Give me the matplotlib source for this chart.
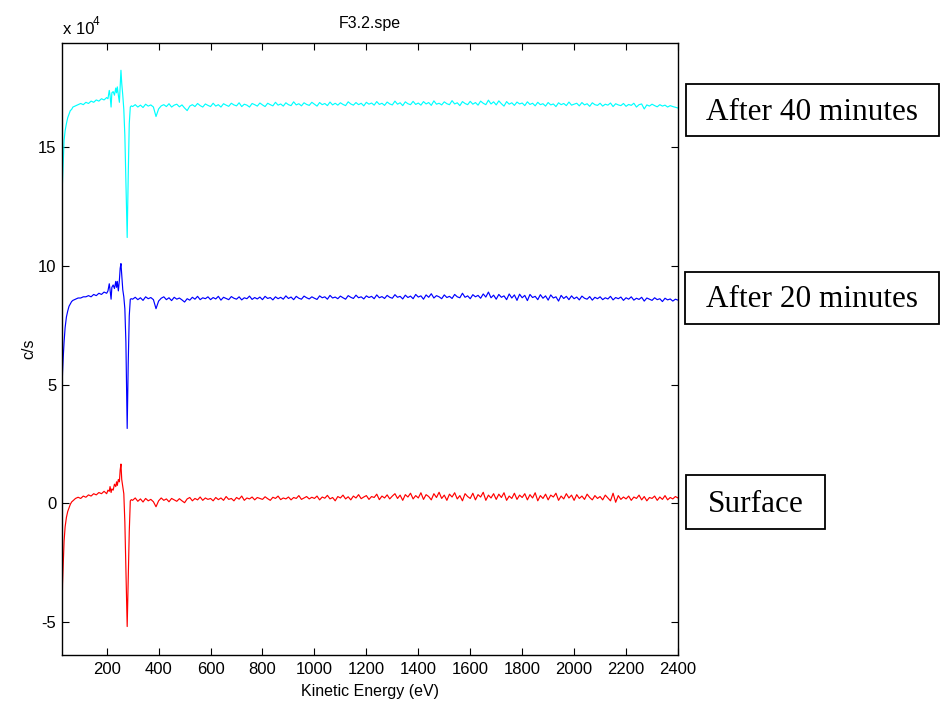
import matplotlib
matplotlib.use("Agg")
import matplotlib.pyplot as plt
from matplotlib.patches import Rectangle

# ---------------- data (counts in units of 1e4 c/s) ----------------
energy_early = [28, 30, 33, 36, 40, 45, 50, 55, 60, 65, 70, 80, 90, 100, 110, 120, 130, 140,
                150, 160, 170, 180, 190, 200, 205, 210, 213, 217, 220, 225, 230, 235, 238,
                241, 245, 249, 252, 255, 258, 262, 266, 270, 274, 279, 283, 287, 291, 295]
energy_flat = list(range(300, 2401, 10))
energy = energy_early + energy_flat

cyan_early = [13.0, 13.6, 14.6, 15.3, 15.7, 16.0, 16.25, 16.4, 16.55, 16.6, 16.7, 16.75, 16.8,
              16.85, 16.8, 16.9, 16.85, 16.95, 16.9, 17.0, 16.95, 17.05, 17.0, 17.1, 17.05,
              17.4, 17.2, 16.7, 17.3, 17.35, 17.2, 17.5, 17.3, 17.55, 17.2, 16.9, 17.6, 18.25,
              17.7, 17.2, 16.6, 15.5, 13.5, 11.2, 13.8, 16.0, 16.7, 16.75]
cyan_flat = [
    16.72, 16.80, 16.70, 16.78, 16.68, 16.82, 16.74, 16.79, 16.70, 16.30,
    16.62, 16.75, 16.80, 16.72, 16.84, 16.70, 16.78, 16.82, 16.71, 16.79,
    16.66, 16.55, 16.74, 16.80, 16.72, 16.85, 16.76, 16.70, 16.83, 16.77,
    16.72, 16.86, 16.74, 16.80, 16.70, 16.84, 16.78, 16.73, 16.86, 16.79,
    16.75, 16.88, 16.72, 16.82, 16.78, 16.70, 16.85, 16.80, 16.74, 16.87,
    16.79, 16.72, 16.86, 16.80, 16.75, 16.90, 16.78, 16.83, 16.74, 16.88,
    16.80, 16.76, 16.92, 16.79, 16.84, 16.75, 16.88, 16.81, 16.77, 16.90,
    16.82, 16.74, 16.89, 16.80, 16.85, 16.76, 16.91, 16.79, 16.86, 16.78,
    16.88, 16.81, 16.76, 16.92, 16.83, 16.78, 16.89, 16.80, 16.86, 16.75,
    16.90, 16.82, 16.87, 16.78, 16.93, 16.81, 16.86, 16.77, 16.91, 16.83,
    16.79, 16.95, 16.82, 16.88, 16.76, 16.92, 16.84, 16.80, 16.94, 16.81,
    16.87, 16.78, 16.93, 16.83, 16.89, 16.77, 16.96, 16.82, 16.86, 16.79,
    16.92, 16.84, 16.80, 16.97, 16.83, 16.88, 16.76, 16.93, 16.85, 16.80,
    16.94, 16.82, 16.89, 16.78, 16.95, 16.86, 16.80, 16.99, 16.83, 16.92,
    16.79, 16.96, 16.84, 16.74, 16.93, 16.82, 16.88, 16.77, 16.91, 16.83,
    16.87, 16.76, 16.92, 16.81, 16.86, 16.75, 16.90, 16.80, 16.84, 16.74,
    16.89, 16.79, 16.83, 16.72, 16.88, 16.80, 16.85, 16.76, 16.91, 16.78,
    16.82, 16.86, 16.75, 16.89, 16.79, 16.84, 16.73, 16.88, 16.80, 16.77,
    16.86, 16.74, 16.82, 16.78, 16.87, 16.72, 16.84, 16.79, 16.76, 16.85,
    16.73, 16.81, 16.77, 16.86, 16.70, 16.80, 16.83, 16.62, 16.79, 16.74,
    16.82, 16.76, 16.71, 16.80, 16.74, 16.78, 16.70, 16.76, 16.72, 16.69,
    16.66]

blue_early = [4.75, 5.5, 6.2, 6.8, 7.4, 7.85, 8.1, 8.3, 8.4, 8.5, 8.55, 8.6, 8.65, 8.65, 8.7,
              8.7, 8.75, 8.7, 8.8, 8.75, 8.85, 8.8, 8.9, 8.85, 8.95, 9.25, 9.0, 8.6, 9.1, 9.2,
              9.05, 9.35, 9.1, 9.35, 8.95, 9.4, 9.9, 10.1, 9.6, 9.0, 8.7, 8.2, 6.8, 3.15, 5.9,
              7.9, 8.6, 8.62]
blue_flat = [
    8.60, 8.68, 8.58, 8.66, 8.55, 8.70, 8.62, 8.67, 8.58, 8.20,
    8.52, 8.64, 8.70, 8.58, 8.66, 8.54, 8.68, 8.60, 8.65, 8.57,
    8.48, 8.62, 8.56, 8.68, 8.60, 8.72, 8.58, 8.66, 8.62, 8.70,
    8.58, 8.67, 8.61, 8.72, 8.56, 8.68, 8.63, 8.58, 8.71, 8.64,
    8.60, 8.70, 8.57, 8.66, 8.62, 8.73, 8.59, 8.67, 8.61, 8.69,
    8.58, 8.72, 8.63, 8.67, 8.57, 8.70, 8.62, 8.68, 8.60, 8.74,
    8.63, 8.69, 8.58, 8.72, 8.64, 8.60, 8.73, 8.66, 8.61, 8.70,
    8.64, 8.59, 8.74, 8.66, 8.70, 8.60, 8.76, 8.65, 8.69, 8.62,
    8.73, 8.66, 8.60, 8.75, 8.68, 8.63, 8.77, 8.66, 8.70, 8.61,
    8.74, 8.67, 8.72, 8.62, 8.78, 8.66, 8.71, 8.63, 8.76, 8.68,
    8.64, 8.79, 8.68, 8.72, 8.61, 8.77, 8.67, 8.73, 8.62, 8.80,
    8.69, 8.74, 8.60, 8.78, 8.68, 8.83, 8.65, 8.75, 8.70, 8.62,
    8.78, 8.67, 8.72, 8.63, 8.80, 8.70, 8.66, 8.85, 8.68, 8.74,
    8.62, 8.79, 8.70, 8.76, 8.64, 8.82, 8.69, 8.90, 8.66, 8.77,
    8.60, 8.80, 8.68, 8.74, 8.58, 8.82, 8.65, 8.78, 8.55, 8.81,
    8.66, 8.76, 8.54, 8.80, 8.67, 8.72, 8.58, 8.79, 8.64, 8.74,
    8.56, 8.78, 8.65, 8.70, 8.52, 8.76, 8.63, 8.72, 8.58, 8.74,
    8.62, 8.69, 8.57, 8.73, 8.64, 8.60, 8.71, 8.56, 8.68, 8.62,
    8.70, 8.58, 8.66, 8.61, 8.72, 8.57, 8.67, 8.62, 8.69, 8.55,
    8.66, 8.60, 8.70, 8.56, 8.64, 8.59, 8.68, 8.52, 8.65, 8.60,
    8.55, 8.66, 8.58, 8.62, 8.50, 8.64, 8.57, 8.61, 8.52, 8.60,
    8.56]

red_early = [-4.9, -3.4, -2.5, -1.6, -1.0, -0.6, -0.35, -0.2, -0.05, 0.05, 0.1, 0.2, 0.25, 0.2,
             0.3, 0.25, 0.35, 0.3, 0.4, 0.35, 0.45, 0.4, 0.5, 0.4, 0.55, 0.5, 0.7, 0.45, 0.6,
             0.55, 0.8, 0.7, 0.9, 0.75, 1.0, 0.9, 1.4, 1.65, 1.0, 0.7, 0.4, -0.8, -2.8, -5.2,
             -3.2, -1.2, 0.1, 0.15]
red_flat = [
    0.12, 0.22, 0.08, 0.18, 0.05, 0.20, 0.10, 0.16, 0.06, -0.15,
    0.10, 0.22, 0.12, 0.18, 0.06, 0.20, 0.14, 0.08, 0.19, 0.10,
    0.02, 0.18, 0.24, 0.10, 0.20, 0.14, 0.26, 0.12, 0.22, 0.16,
    0.20, 0.10, 0.24, 0.15, 0.22, 0.12, 0.28, 0.16, 0.20, 0.10,
    0.24, 0.17, 0.30, 0.12, 0.22, 0.18, 0.26, 0.14, 0.24, 0.20,
    0.16, 0.27, 0.19, 0.12, 0.25, 0.20, 0.30, 0.15, 0.22, 0.18,
    0.26, 0.14, 0.24, 0.20, 0.32, 0.16, 0.22, 0.28, 0.18, 0.25,
    0.20, 0.30, 0.14, 0.26, 0.21, 0.33, 0.18, 0.24, 0.10, 0.28,
    0.22, 0.34, 0.18, 0.27, 0.14, 0.30, 0.22, 0.36, 0.19, 0.26,
    0.32, 0.16, 0.28, 0.24, 0.38, 0.15, 0.30, 0.22, 0.35, 0.18,
    0.30, 0.40, 0.20, 0.34, 0.12, 0.36, 0.26, 0.42, 0.18, 0.32,
    0.22, 0.44, 0.16, 0.36, 0.28, 0.14, 0.40, 0.24, 0.46, 0.20,
    0.34, 0.12, 0.38, 0.26, 0.44, 0.18, 0.32, 0.10, 0.40, 0.28,
    0.20, 0.42, 0.14, 0.36, 0.26, 0.46, 0.12, 0.34, 0.22, 0.40,
    0.16, 0.38, 0.24, 0.44, 0.12, 0.30, 0.20, 0.42, 0.16, 0.34,
    0.24, 0.40, 0.14, 0.36, 0.22, 0.44, 0.10, 0.32, 0.20, 0.38,
    0.14, 0.34, 0.26, 0.42, 0.12, 0.30, 0.18, 0.40, 0.22, 0.34,
    0.12, 0.36, 0.20, 0.30, 0.16, 0.38, 0.24, 0.14, 0.32, 0.20,
    0.28, 0.14, 0.34, 0.22, 0.10, 0.42, 0.04, 0.32, 0.16, 0.26,
    0.18, 0.30, 0.12, 0.26, 0.20, 0.34, 0.14, 0.28, 0.10, 0.24,
    0.20, 0.30, 0.12, 0.26, 0.16, 0.32, 0.14, 0.24, 0.18, 0.28,
    0.22]

series_labels = ["After 40 minutes", "After 20 minutes", "Surface"]
series_values = [cyan_early + cyan_flat, blue_early + blue_flat, red_early + red_flat]
series_colors = ["#00FFFF", "#0000FF", "#FF0000"]
x_ticks = [200, 400, 600, 800, 1000, 1200, 1400, 1600, 1800, 2000, 2200, 2400]
y_ticks = [-5, 0, 5, 10, 15]

# ---------------- figure ----------------
W, H = 940, 705
fig = plt.figure(figsize=(W / 100, H / 100), dpi=100)
sans = ["Liberation Sans", "DejaVu Sans"]
serif = ["Liberation Serif", "DejaVu Serif"]

ax = fig.add_axes([62 / W, 1 - 655 / H, (678 - 62) / W, (655 - 43) / H])
for vals, col in zip(series_values, series_colors):
    ax.plot(energy, vals, color=col, lw=0.85)

ax.set_xlim(28, 2400)
ax.set_ylim(-6.4, 19.4)
ax.set_xticks(x_ticks)
ax.set_yticks(y_ticks)
ax.set_xticklabels([str(t) for t in x_ticks], fontfamily=sans, fontsize=12)
ax.set_yticklabels([str(t) for t in y_ticks], fontfamily=sans, fontsize=12)
ax.tick_params(axis="x", direction="in", length=5, width=0.8, top=True, pad=5)
ax.tick_params(axis="y", direction="in", length=5, width=0.8, right=True, pad=4)
for s in ax.spines.values():
    s.set_linewidth(1.0)
ax.set_xlabel("Kinetic Energy (eV)", fontfamily=sans, fontsize=11.5, labelpad=5)
ax.set_ylabel("c/s", fontfamily=sans, fontsize=11.5, labelpad=1)
ax.set_title("F3.2.spe", fontfamily=sans, fontsize=11.5, pad=11)

fig.text(63 / W, 1 - 34 / H, "x 10", fontfamily=sans, fontsize=12, va="baseline")
fig.text(93 / W, 1 - 25 / H, "4", fontfamily=sans, fontsize=8.5, va="baseline")

# annotation boxes (pixel extents)
boxes = [(686, 84, 939, 136), (685, 272, 939, 324), (686, 475, 825, 529)]
for (x0, y0, x1, y1), lab in zip(boxes, series_labels):
    fig.patches.append(Rectangle((x0 / W, 1 - y1 / H), (x1 - x0) / W, (y1 - y0) / H,
                                 transform=fig.transFigure, fill=False, ec="black", lw=1.3))
    fig.text((x0 + x1) / 2 / W, 1 - (y0 + y1 + 4) / 2 / H, lab, fontfamily=serif,
             fontsize=22.5, ha="center", va="center")

fig.savefig("out.png", dpi=100)
